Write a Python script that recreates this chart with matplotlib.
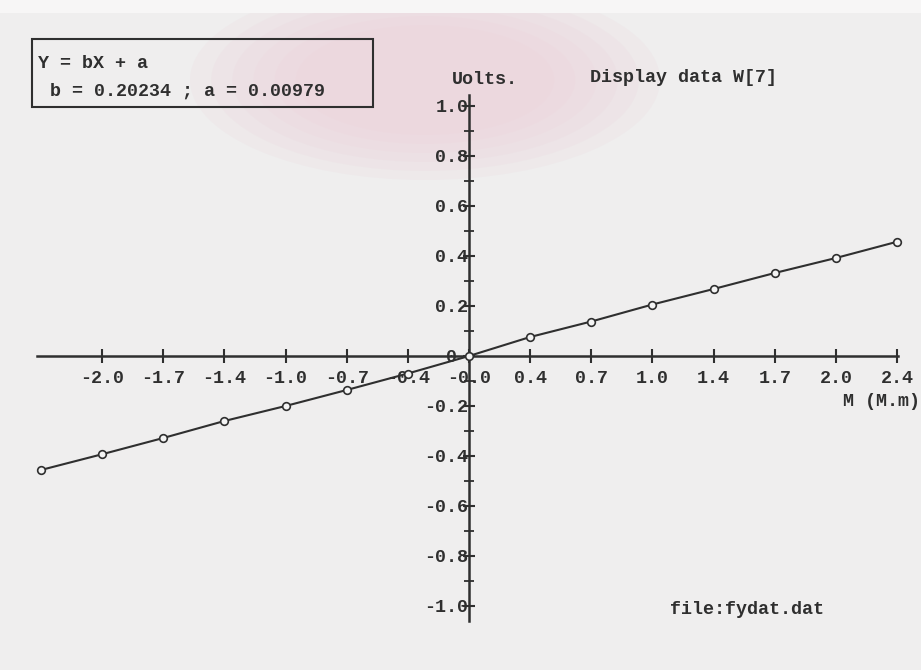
import numpy as np
import matplotlib
matplotlib.use("Agg")
import matplotlib.pyplot as plt
from matplotlib.patches import Ellipse, Rectangle

# Displacement axis: evenly spaced ticks, printed labels as produced by the plotter
x_step = 2.4 / 7
x_tick_index = np.arange(-6, 8)
x_tick_labels = ['-2.0', '-1.7', '-1.4', '-1.0', '-0.7', '-0.4', '-0.0',
                 '0.4', '0.7', '1.0', '1.4', '1.7', '2.0', '2.4']

# Voltage axis
y_major = [-1.0, -0.8, -0.6, -0.4, -0.2, 0.0, 0.2, 0.4, 0.6, 0.8, 1.0]
y_tick_labels = ['-1.0', '-0.8', '-0.6', '-0.4', '-0.2', '0 ',
                 '0.2', '0.4', '0.6', '0.8', '1.0']
y_minor = [-0.9, -0.7, -0.5, -0.3, -0.1, 0.1, 0.3, 0.5, 0.7, 0.9]

# Measured points (sample index along the displacement axis, volts)
point_index = np.arange(-7, 8)
volts = [-0.456, -0.393, -0.328, -0.260, -0.200, -0.136, -0.070, 0.000,
         0.076, 0.138, 0.206, 0.268, 0.332, 0.392, 0.457]

fit_text = "Y = bX + a"
coef_text = "b = 0.20234 ; a = 0.00979"

W, H = 921, 670
PAPER = '#efeeee'
INK = '#2f2f2f'
FS = 13.2
FONT = dict(family='Liberation Mono', weight='bold', color=INK)

fig = plt.figure(figsize=(W / 100, H / 100), dpi=100, facecolor=PAPER)


def fx(px):
    return px / W


def fy(py):
    return 1 - py / H


# faint crest stamp in the upper middle of the sheet, soft edged
for k, scale in enumerate(np.linspace(1.0, 0.55, 6)):
    fig.add_artist(Ellipse((fx(425), fy(80)), fx(470) * scale,
                           (200 / H) * scale, transform=fig.transFigure,
                           facecolor='#eccfd9', edgecolor='none',
                           alpha=0.16, zorder=0))
# lighter strip along the top of the sheet
fig.add_artist(Rectangle((0, fy(13)), 1, 13 / H, transform=fig.transFigure,
                         facecolor='#f7f6f6', edgecolor='none', zorder=0.5))

ax = fig.add_axes([0, 0, 1, 1])
ax.patch.set_visible(False)

# pixel scale of the plot: origin at (469, 356)
px_per_x = 61.15 / x_step
px_per_y = 250.0
ax.set_xlim(-469 / px_per_x, (W - 469) / px_per_x)
ax.set_ylim(-(H - 356) / px_per_y, 356 / px_per_y)

for s in ('top', 'right'):
    ax.spines[s].set_visible(False)
ax.spines['left'].set_position(('data', 0))
ax.spines['bottom'].set_position(('data', 0))
ax.spines['left'].set_bounds(-1.06, 1.045)
ax.spines['bottom'].set_bounds(-2.42, 2.405)
for s in ('left', 'bottom'):
    ax.spines[s].set_color(INK)
    ax.spines[s].set_linewidth(1.8)

ax.set_xticks(x_tick_index * x_step)
ax.set_xticklabels(x_tick_labels)
ax.set_yticks(y_major)
ax.set_yticklabels(y_tick_labels)
ax.set_yticks(y_minor, minor=True)

ax.tick_params(axis='x', which='major', direction='inout', length=10,
               width=1.5, color=INK, pad=5)
ax.tick_params(axis='y', which='major', direction='inout', length=9,
               width=1.5, color=INK, pad=-4)
ax.tick_params(axis='y', which='minor', direction='inout', length=7,
               width=1.3, color=INK)
for lab in ax.get_xticklabels() + ax.get_yticklabels():
    lab.set_fontfamily(FONT['family'])
    lab.set_fontweight('bold')
    lab.set_fontsize(FS)
    lab.set_color(INK)

ax.plot(point_index * x_step, volts, color=INK, lw=1.5, marker='o',
        markersize=5.5, markerfacecolor='#f4f4f4', markeredgecolor=INK,
        markeredgewidth=1.2, zorder=3)

# equation box
fig.add_artist(Rectangle((fx(31.7), fy(107)), fx(373) - fx(31.7),
                         fy(39.3) - fy(107), transform=fig.transFigure,
                         fill=False, edgecolor=INK, linewidth=1.5))
fig.text(fx(38), fy(63), fit_text, ha='left', va='center', fontsize=FS, **FONT)
fig.text(fx(50), fy(91), coef_text, ha='left', va='center', fontsize=FS, **FONT)

fig.text(fx(452), fy(79), "Uolts.", ha='left', va='center', fontsize=FS, **FONT)
fig.text(fx(590), fy(77), "Display data W[7]", ha='left', va='center',
         fontsize=FS, **FONT)
fig.text(fx(920), fy(402), "M (M.m)", ha='right', va='center', fontsize=FS, **FONT)
fig.text(fx(670), fy(609), "file:fydat.dat", ha='left', va='center',
         fontsize=FS, **FONT)

fig.savefig('out.png', dpi=100, facecolor=PAPER)
